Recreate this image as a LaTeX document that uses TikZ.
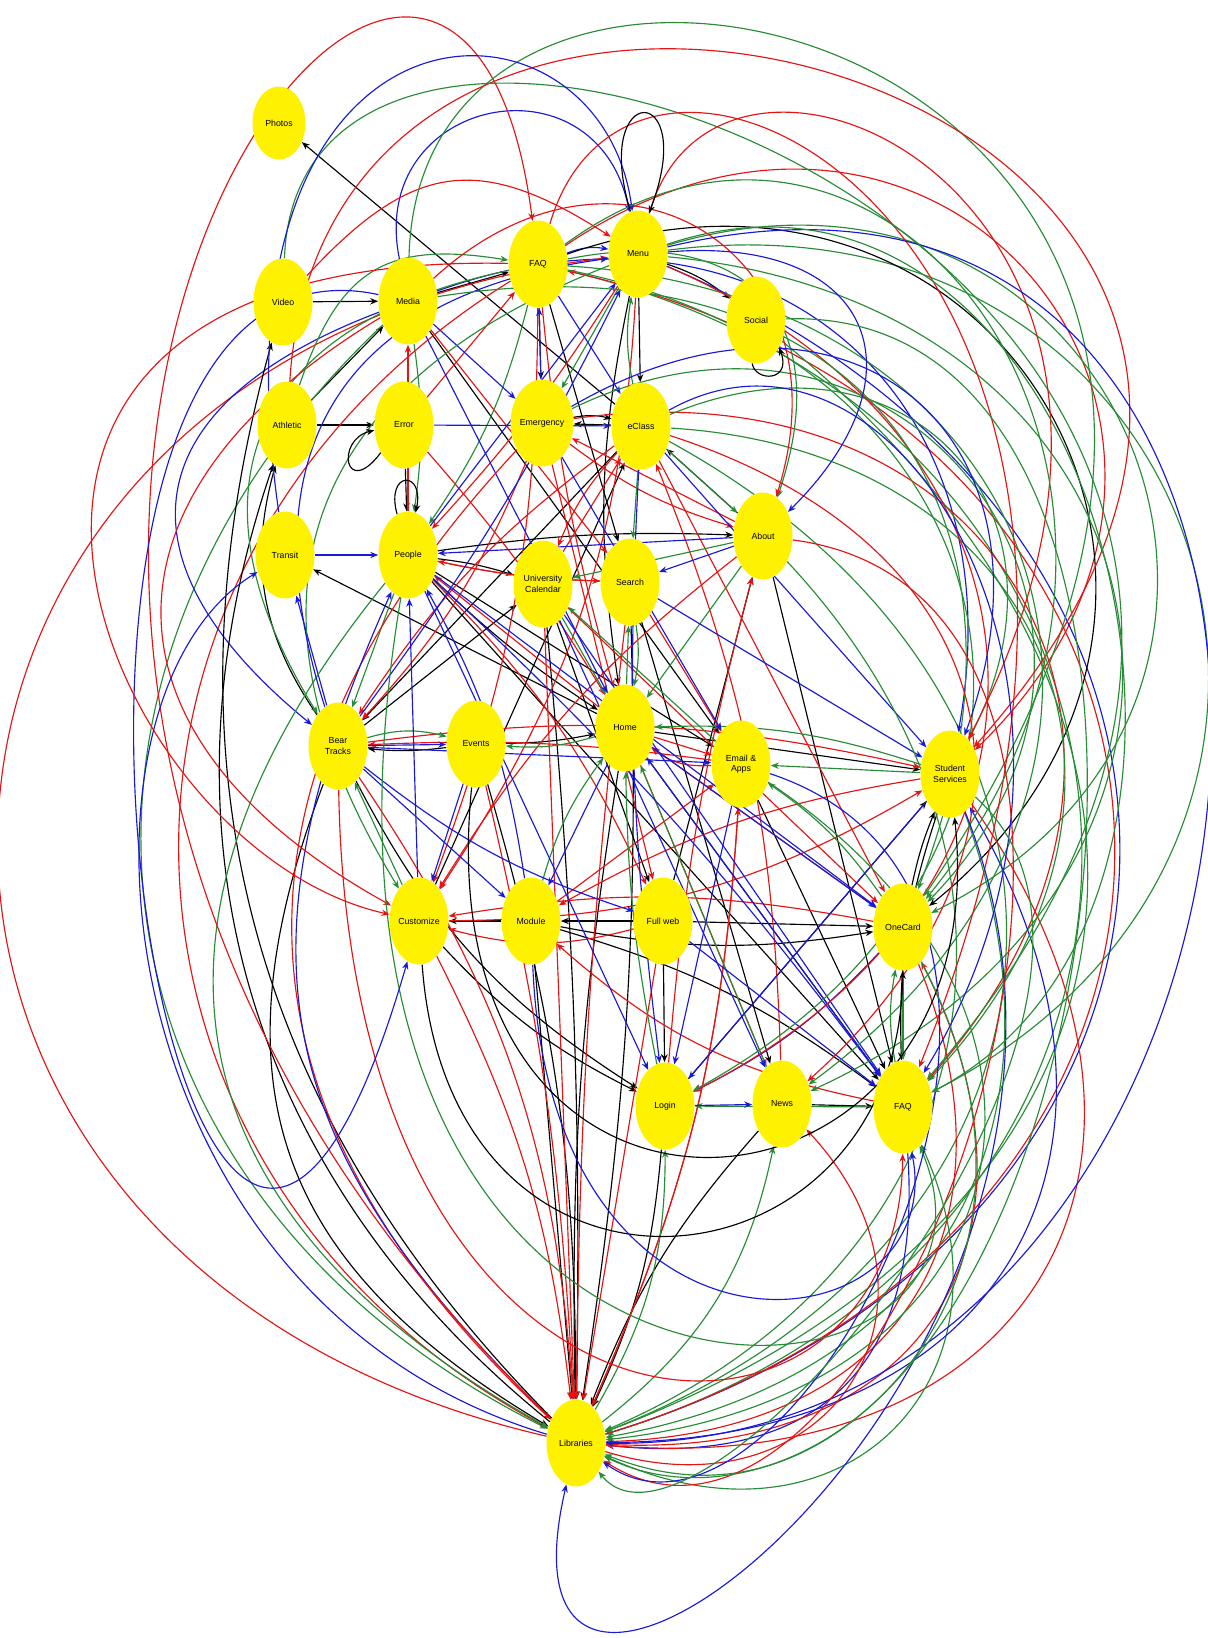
\documentclass[tikz,border=0pt]{standalone}
\usepackage{fontspec}
\setmainfont{Liberation Sans}
\usetikzlibrary{shapes.geometric, arrows.meta, backgrounds}

\definecolor{lr}{RGB}{228,20,20}
\definecolor{lg}{RGB}{40,140,55}
\definecolor{lb}{RGB}{25,25,215}
\colorlet{lk}{black}

\tikzset{
  page/.style={ellipse, fill=yellow, inner sep=0pt, minimum width=1.18cm,
    minimum height=1.74cm, align=center, font=\fontsize{5}{6}\selectfont},
  link/.style={-{Stealth[length=4.5pt,width=3.6pt]}, line width=0.65pt},
}

\begin{document}
\begin{tikzpicture}[x=0.02cm, y=-0.02cm]
    \useasboundingbox (0,0) rectangle (1207,1638);

    % Pages of the mobile site
    \node[page, minimum width=1.06cm, minimum height=1.46cm] (photos) at (279,123) {Photos};
    \node[page] (video)   at (283,302)  {Video};
    \node[page] (media)   at (408,301)  {Media};
    \node[page] (faqt)    at (538,264)  {FAQ};
    \node[page] (menu)    at (638,254)  {Menu};
    \node[page] (social)  at (756,320)  {Social};
    \node[page] (athl)    at (287,425)  {Athletic};
    \node[page] (error)   at (404,425)  {Error};
    \node[page] (emerg)   at (542,423)  {Emergency};
    \node[page] (eclass)  at (641,426)  {eClass};
    \node[page] (about)   at (763,536)  {About};
    \node[page] (transit) at (285,555)  {Transit};
    \node[page] (people)  at (408,555)  {People};
    \node[page] (ucal)    at (543,584)  {University\\Calendar};
    \node[page] (search)  at (630,582)  {Search};
    \node[page] (bear)    at (338,746)  {Bear\\Tracks};
    \node[page] (events)  at (476,744)  {Events};
    \node[page] (home)    at (625,728)  {Home};
    \node[page] (email)   at (741,764)  {Email \&\\Apps};
    \node[page] (stud)    at (950,774)  {Student\\Services};
    \node[page] (cust)    at (419,921)  {Customize};
    \node[page] (module)  at (531,921)  {Module};
    \node[page] (fullweb) at (663,921)  {Full web};
    \node[page] (onecard) at (903,927)  {OneCard};
    \node[page] (login)   at (665,1106) {Login};
    \node[page] (news)    at (782,1104) {News};
    \node[page, minimum height=1.86cm] (faqb) at (903,1107) {FAQ};
    \node[page] (lib)     at (576,1443) {Libraries};

    \begin{scope}[on background layer]
    \fill[white] (0,0) rectangle (1207,1638);

    % Links inside the cluster
    \foreach \src/\dst/\col/\ang in {
        video/media/lk/0, athl/error/lk/0, athl/media/lk/0, eclass/photos/lk/0,
        menu/social/lk/10, menu/eclass/lk/0, eclass/emerg/lk/0, emerg/eclass/lk/12,
        fullweb/login/lk/0, module/cust/lk/0, fullweb/module/lk/0, news/faqb/lk/0,
        fullweb/onecard/lk/0, events/bear/lk/6, people/faqb/lk/0, people/email/lk/0,
        search/lib/lk/5, home/lib/lk/-5, module/lib/lk/0, login/lib/lk/10,
        news/lib/lk/-10, stud/faqb/lk/-10, onecard/stud/lk/5, home/stud/lk/0,
        faqt/emerg/lk/0, media/faqt/lk/0, people/ucal/lk/5, bear/ucal/lk/0,
        cust/eclass/lk/0, ucal/fullweb/lk/0, home/faqb/lk/0, about/eclass/lk/0,
        events/home/lk/-5, module/faqb/lk/10, login/stud/lk/0, cust/login/lk/-10,
        bear/login/lk/-15, people/about/lk/5, eclass/bear/lk/0, menu/home/lk/-10,
        fullweb/about/lk/0, error/people/lk/0, home/transit/lk/0, bear/athl/lk/25,
        ucal/lib/lk/3, events/lib/lk/8, people/home/lk/-5, faqt/search/lk/0,
        media/email/lk/0, about/faqb/lk/0, search/news/lk/0, email/faqb/lk/0,
        module/onecard/lk/-10,
        home/email/lr/0, email/home/lr/20, ucal/lib/lr/0, cust/lib/lr/10,
        bear/lib/lr/15, events/lib/lr/5, faqt/cust/lr/10, menu/cust/lr/15,
        eclass/bear/lr/-10, emerg/bear/lr/10, about/cust/lr/-10, email/bear/lr/-5,
        onecard/cust/lr/-10, fullweb/cust/lr/15, stud/module/lr/-10, home/people/lr/0,
        search/people/lr/5, ucal/eclass/lr/0, about/emerg/lr/0, people/search/lr/-5,
        module/email/lr/0, faqb/module/lr/15, login/about/lr/5, news/eclass/lr/-10,
        onecard/home/lr/0, bear/stud/lr/10, people/fullweb/lr/10, emerg/about/lr/-10,
        eclass/ucal/lr/-10, media/search/lr/0, faqt/home/lr/-5, menu/people/lr/5,
        search/email/lr/0, error/faqt/lr/0, people/media/lr/0, lib/email/lr/-10,
        ucal/onecard/lr/0, email/lib/lr/10, fullweb/lib/lr/0, search/lib/lr/-3,
        eclass/onecard/lr/0, error/home/lr/5, emerg/fullweb/lr/0, home/news/lr/0,
        cust/stud/lr/-15,
        home/search/lg/0, eclass/search/lg/0, about/home/lg/0, stud/email/lg/0,
        onecard/faqb/lg/0, faqb/onecard/lg/10, media/people/lg/8, faqt/people/lg/10,
        menu/emerg/lg/0, email/ucal/lg/0, home/events/lg/10, stud/home/lg/-10,
        about/ucal/lg/0, lib/login/lg/-15, lib/news/lg/-20, login/home/lg/5,
        news/home/lg/0, onecard/email/lg/-10, eclass/about/lg/0, search/home/lg/10,
        ucal/home/lg/0, module/home/lg/10, bear/events/lg/15, people/bear/lg/0,
        faqb/login/lg/0, cust/bear/lg/0, eclass/menu/lg/10,
        login/news/lb/0, bear/events/lb/0, transit/people/lb/0, bear/transit/lb/0,
        people/login/lb/0, cust/people/lb/0, module/people/lb/-10, emerg/faqt/lb/0,
        faqt/menu/lb/15, about/search/lb/0, eclass/stud/lb/0, home/onecard/lb/0,
        people/faqb/lb/5, ucal/faqb/lb/0, bear/module/lb/0, events/cust/lb/0,
        media/emerg/lb/0, error/eclass/lb/0, people/menu/lb/0, bear/menu/lb/-5,
        fullweb/faqb/lb/0, email/login/lb/0, stud/login/lb/0, onecard/login/lb/10,
        home/module/lb/0, about/people/lb/0, faqb/home/lb/0, faqt/eclass/lb/0,
        search/stud/lb/0, people/onecard/lb/0, bear/email/lb/0, emerg/email/lb/0,
        media/home/lb/0, eclass/login/lb/-5, ucal/news/lb/0, bear/fullweb/lb/-10}
        \draw[link, color=\col] (\src) to[bend left=\ang] (\dst);

    % Long arcs round the outside
    \foreach \src/\dst/\col/\ang/\lo in {
        menu/faqb/lg/80/1.6, faqt/stud/lr/85/1.8, menu/lib/lb/70/1.5,
        faqt/lib/lg/75/1.5, lib/faqt/lr/-75/1.6, eclass/lib/lg/65/1.4,
        menu/onecard/lg/85/1.7, faqt/onecard/lk/80/1.6, media/stud/lb/60/1.3,
        emerg/faqb/lr/70/1.5, menu/news/lg/75/1.6, faqt/about/lg/60/1.5,
        eclass/stud/lg/70/1.5, social/lib/lg/60/1.4, about/lib/lg/55/1.2,
        stud/lib/lg/50/1.2, onecard/lib/lr/55/1.3, faqb/lib/lb/50/1.3,
        stud/lib/lr/65/1.5, email/lib/lg/70/1.6, lib/onecard/lr/-60/1.4,
        lib/menu/lr/80/1.7, faqt/lib/lr/-60/1.2,
        media/lib/lg/-55/1.2, media/bear/lb/-60/1.6,
        lib/athl/lk/35/1, lib/video/lk/30/1, bear/lib/lk/-40/1.2,
        people/lib/lg/-50/1.3, faqt/bear/lg/-55/1.4, menu/cust/lg/-50/1.3,
        emerg/lib/lr/-45/1.2, lib/people/lb/35/1.2, media/cust/lr/-60/1.5,
        media/menu/lb/90/1.8, video/menu/lr/40/1.3, athl/faqt/lg/40/1.3,
        bear/menu/lb/50/1.3, lib/faqb/lg/-70/1.5, lib/stud/lb/-60/1.4,
        lib/news/lr/-75/1.6, emerg/onecard/lg/80/1.6, eclass/faqb/lg/65/1.4,
        faqt/news/lg/70/1.5, menu/login/lr/65/1.4, faqt/login/lg/70/1.5,
        media/onecard/lg/60/1.4, media/about/lr/75/1.6, emerg/stud/lb/70/1.6,
        eclass/news/lr/60/1.4, menu/about/lb/70/1.8}
        \draw[link, color=\col] (\src) to[bend left=\ang, looseness=\lo] (\dst);

    % Arcs over the top, round the sides and under Libraries
    \foreach \src/\dst/\col/\ax/\ay/\bx/\by in {
        lib/faqt/lr/-300/600/450/-420, media/onecard/lg/420/-220/1500/50,
        athl/stud/lr/330/-250/1550/100, video/faqb/lg/300/-200/1600/300,
        transit/menu/lb/200/-30/600/-30, faqt/faqb/lr/640/-80/1250/250,
        menu/stud/lr/720/-40/1250/200, menu/lib/lb/1450/60/1350/1450,
        eclass/faqb/lb/900/280/1150/700, stud/lib/lb/1180/1350/470/1900,
        bear/faqb/lr/350/1500/900/1500, cust/onecard/lk/450/1350/900/1300,
        module/faqb/lb/550/1400/950/1350, people/faqb/lg/250/1500/1050/1450,
        events/stud/lk/420/1300/1000/1250, media/cust/lb/-60/200/180/1750,
        faqt/cust/lr/-150/250/100/850, social/lib/lg/1300/300/1100/1650,
        about/lib/lr/1250/600/900/1650, email/lib/lb/1150/900/800/1600,
        onecard/lib/lg/1100/1300/800/1550, stud/lib/lg/1200/1000/700/1600,
        menu/faqb/lg/1100/100/1300/900, faqt/onecard/lg/900/0/1250/500,
        lib/transit/lb/100/1300/50/700}
        \draw[link, color=\col] (\src) .. controls (\ax,\ay) and (\bx,\by) .. (\dst);

    % self links
    \draw[link] (menu.100) .. controls (590,80) and (700,80) .. (menu.75);
    \draw[link] (social.-95) .. controls (755,382) and (792,382) .. (social.-50);
    \draw[link] (error.-130) .. controls (345,500) and (335,440) .. (error.-170);
    \draw[link] (people.105) .. controls (385,470) and (425,470) .. (people.80);
    \end{scope}
\end{tikzpicture}
\end{document}
